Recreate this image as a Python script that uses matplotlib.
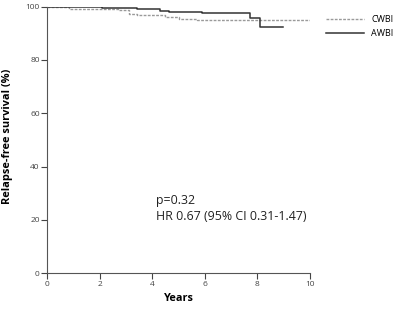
import matplotlib.pyplot as plt

# Kaplan-Meier step data (years, survival %)
cwbi_t = [0, 0.84, 2.75, 3.1, 3.4, 4.5, 5.0, 5.7, 10.0]
cwbi_s = [100, 99.1, 98.6, 97.2, 96.7, 96.2, 95.5, 95.1, 95.1]

awbi_t = [0, 2.1, 3.4, 4.3, 4.65, 5.9, 7.7, 8.1, 8.97]
awbi_s = [100, 99.5, 99.0, 98.5, 98.0, 97.5, 95.7, 92.3, 92.3]

xticks = [0, 2, 4, 6, 8, 10]
yticks = [0, 20, 40, 60, 80, 100]

plt.rcParams['font.family'] = ['Open Sans', 'DejaVu Sans']

fig = plt.figure(figsize=(4, 3.13), dpi=100)
ax = fig.add_axes([0.118, 0.127, 0.657, 0.852])

ax.step(cwbi_t, cwbi_s, where='post', color='#9a9a9a', lw=1.0,
        linestyle=(0, (2, 1)), label='CWBI')
ax.step(awbi_t, awbi_s, where='post', color='#333333', lw=1.1, label='AWBI')

ax.set_xlim(0, 10)
ax.set_ylim(0, 100)
ax.set_xticks(xticks)
ax.set_yticks(yticks)
ax.tick_params(labelsize=6, colors='#444444', length=4.5, width=0.8, pad=0.8)
for s in ['top', 'right']:
    ax.spines[s].set_visible(False)
for s in ['left', 'bottom']:
    ax.spines[s].set_color('#555555')
    ax.spines[s].set_linewidth(0.8)

ax.set_xlabel('Years', fontsize=7.8, fontweight='bold', labelpad=4)
ax.set_ylabel('Relapse-free survival (%)', fontsize=7.9, fontweight='bold')
ax.yaxis.set_label_coords(-0.13, 0.515)

ax.text(4.14, 27.1, 'p=0.32', fontsize=8.9, color='#222222', va='center')
ax.text(4.14, 21.1, 'HR 0.67 (95% CI 0.31-1.47)', fontsize=8.9, color='#222222', va='center')

ax.legend(loc='upper left', bbox_to_anchor=(1.03, 1.0), frameon=False,
          fontsize=6.5, handlelength=4.2, handletextpad=0.8, labelspacing=0.55)

fig.savefig('out.png', dpi=100)
